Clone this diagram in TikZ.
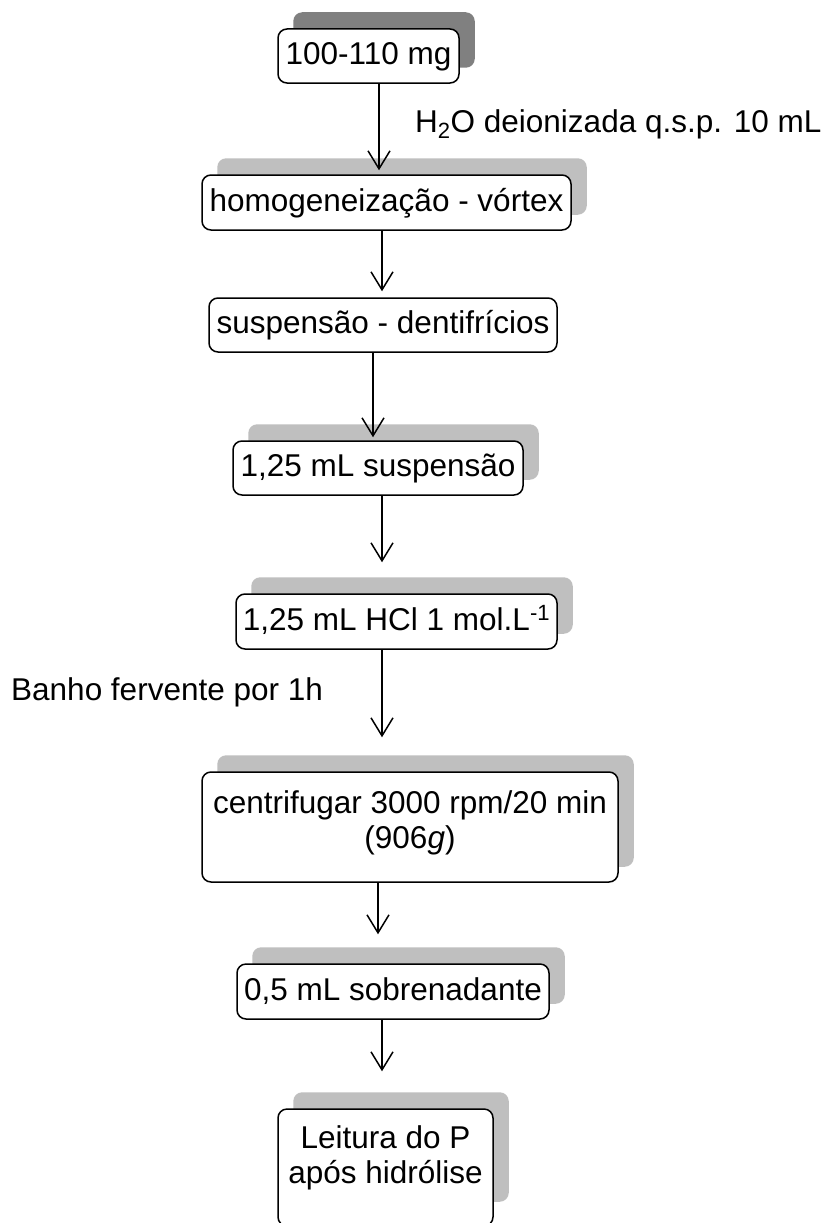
\documentclass[tikz,border=0pt]{standalone}
\usepackage{fontspec}
\setmainfont{Liberation Sans}
\usetikzlibrary{arrows.meta,backgrounds}
\begin{document}
\begin{tikzpicture}[x=1pt,y=1pt,
  box/.style={draw=black, line width=1.5pt, fill=white, rounded corners=9pt,
    inner sep=0pt, align=center,
    font=\fontsize{31.5}{35}\selectfont},
  oneline/.style={text height=23pt, text depth=6pt},
  shdark/.style={fill=black!50, rounded corners=9pt},
  shlight/.style={fill=black!25, rounded corners=9pt},
  arr/.style={line width=1.5pt, -{Straight Barb[length=18pt,width=22pt,line width=1.5pt]}},
  lbl/.style={inner sep=0pt, anchor=base west, font=\fontsize{31.5}{36}\selectfont}]
\useasboundingbox (0,0) rectangle (827,-1223);

\node[box, oneline, minimum width=181pt, minimum height=54pt] (b1) at (368.5,-56) {100-110 mg};
\node[box, oneline, minimum width=369pt, minimum height=55pt] (b2) at (386.5,-202.5) {homogeneização - vórtex};
\node[box, oneline, minimum width=348pt, minimum height=54pt] (b3) at (383,-325) {suspensão - dentifrícios};
\node[box, oneline, minimum width=290pt, minimum height=54pt] (b4) at (378,-468) {1,25 mL suspensão};
\node[box, oneline, minimum width=321pt, minimum height=55pt] (b5) at (396.5,-621.5) {1,25 mL HCl 1 mol.L\textsuperscript{-1}};
\node[box, minimum width=416pt, minimum height=110pt] (b6) at (410,-827) {centrifugar 3000 rpm/20 min\\(906\textit{g})\\[-21pt]\mbox{}};
\node[box, oneline, minimum width=312pt, minimum height=55pt] (b7) at (393,-991.5) {0,5 mL sobrenadante};
\node[box, minimum width=215pt, minimum height=117pt] (b8) at (385.5,-1167.5) {Leitura do P\\após hidrólise\\[-10pt]\mbox{}};

\begin{scope}[on background layer]
  \fill[shdark] ([shift={(16,16)}]b1.south west) rectangle ([shift={(15,16)}]b1.north east);
  \foreach \b in {b2,b4,b5,b6,b7}
    \fill[shlight] ([shift={(16,16)}]\b.south west) rectangle ([shift={(15,16)}]\b.north east);
  \fill[shlight] ([shift={(16,25)}]b8.south west) rectangle ([shift={(15,16)}]b8.north east);
\end{scope}

\coordinate (s1) at ([xshift=10.5pt]b1.south);
\coordinate (s2) at ([xshift=-4.5pt]b2.south);
\coordinate (s3) at ([xshift=-10pt]b3.south);
\coordinate (s4) at ([xshift=4pt]b4.south);
\coordinate (s5) at ([xshift=-14.5pt]b5.south);
\coordinate (s6) at ([xshift=-32pt]b6.south);
\coordinate (s7) at ([xshift=-11pt]b7.south);

\draw[arr, shorten >=4pt] (s1) -- (s1 |- b2.north);
\draw[arr, shorten >=6pt] (s2) -- (s2 |- b3.north);
\draw[arr, shorten >=3pt] (s3) -- (s3 |- b4.north);
\draw[arr, shorten >=31pt] (s4) -- (s4 |- b5.north);
\draw[arr, shorten >=34pt] (s5) -- (s5 |- b6.north);
\draw[arr, shorten >=29pt] (s6) -- (s6 |- b7.north);
\draw[arr, shorten >=37pt] (s7) -- (s7 |- b8.north);

\node[lbl] (h2o) at (415,-132) {H\textsubscript{2}O deionizada q.s.p. 10 mL};
\node[lbl] (banho) at (11,-700) {Banho fervente por 1h};
\end{tikzpicture}
\end{document}
